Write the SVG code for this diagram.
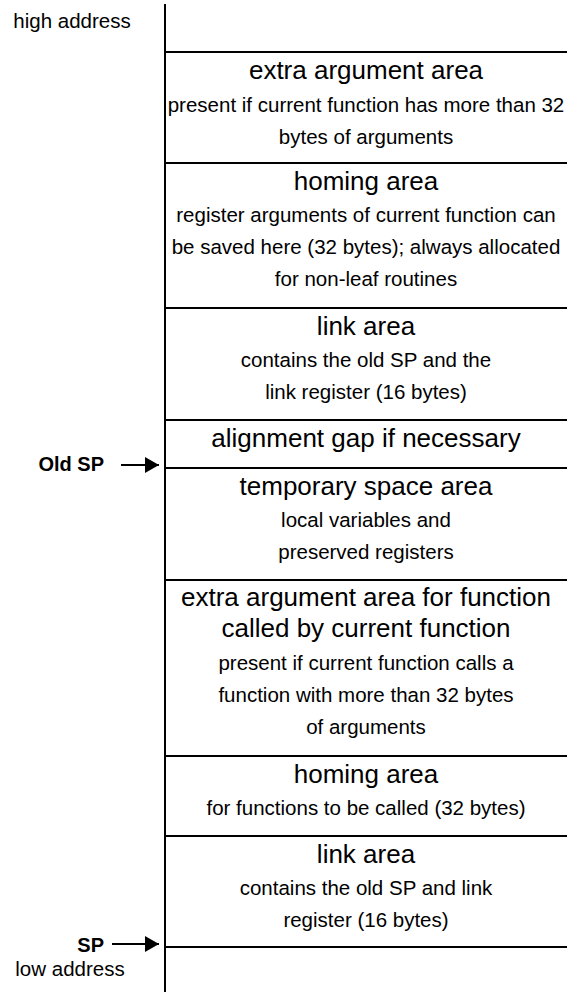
<svg xmlns="http://www.w3.org/2000/svg" width="567" height="992" viewBox="0 0 567 992">
<style>
  text { font-family: "Liberation Sans", Arial, Helvetica, sans-serif; fill: #000; }
  .t { font-size: 26px; text-anchor: middle; }
  .d { font-size: 20.5px; text-anchor: middle; }
  .l { font-size: 20.5px; text-anchor: middle; }
  .b { font-size: 20px; font-weight: bold; text-anchor: end; }
  .box { fill: none; stroke: #000; stroke-width: 2; }
  .ln { stroke: #000; stroke-width: 2; fill: none; }
</style>
<defs>
  <marker id="ah" markerUnits="userSpaceOnUse" markerWidth="15" markerHeight="16" refX="14" refY="8" orient="auto">
    <path d="M0,0 L14,8 L0,16 z" fill="#000"/>
  </marker>
</defs>
<rect width="567" height="992" fill="#fff"/>
<g id="frame">
  <line class="ln" x1="165" y1="4" x2="165" y2="52"/>
  <line class="ln" x1="165" y1="947" x2="165" y2="992"/>
</g>
<g id="labels">
  <text class="l" x="72" y="28">high address</text>
  <text class="l" x="70" y="976">low address</text>
  <text class="b" x="104" y="471">Old SP</text>
  <text class="b" x="104" y="952">SP</text>
</g>
<g id="n1">
  <rect class="box" x="165" y="52" width="410" height="111"/>
  <text class="t" x="366" y="79">extra argument area</text>
  <text class="d" x="366" y="112">present if current function has more than 32</text>
  <text class="d" x="366" y="144">bytes of arguments</text>
</g>
<g id="n2">
  <rect class="box" x="165" y="163" width="410" height="145"/>
  <text class="t" x="366" y="190">homing area</text>
  <text class="d" x="366" y="222">register arguments of current function can</text>
  <text class="d" x="366" y="254">be saved here (32 bytes); always allocated</text>
  <text class="d" x="366" y="286">for non-leaf routines</text>
</g>
<g id="n3">
  <rect class="box" x="165" y="308" width="410" height="112"/>
  <text class="t" x="366" y="335">link area</text>
  <text class="d" x="366" y="367">contains the old SP and the</text>
  <text class="d" x="366" y="399">link register (16 bytes)</text>
</g>
<g id="n4">
  <rect class="box" x="165" y="420" width="410" height="48"/>
  <text class="t" x="366" y="447">alignment gap if necessary</text>
</g>
<g id="n5">
  <rect class="box" x="165" y="468" width="410" height="112"/>
  <text class="t" x="366" y="495">temporary space area</text>
  <text class="d" x="366" y="527">local variables and</text>
  <text class="d" x="366" y="559">preserved registers</text>
</g>
<g id="n6">
  <rect class="box" x="165" y="580" width="410" height="176"/>
  <text class="t" x="366" y="606">extra argument area for function</text>
  <text class="t" x="366" y="637">called by current function</text>
  <text class="d" x="366" y="670">present if current function calls a</text>
  <text class="d" x="366" y="702">function with more than 32 bytes</text>
  <text class="d" x="366" y="734">of arguments</text>
</g>
<g id="n7">
  <rect class="box" x="165" y="756" width="410" height="80"/>
  <text class="t" x="366" y="783">homing area</text>
  <text class="d" x="366" y="815">for functions to be called (32 bytes)</text>
</g>
<g id="n8">
  <rect class="box" x="165" y="836" width="410" height="111"/>
  <text class="t" x="366" y="863">link area</text>
  <text class="d" x="366" y="895">contains the old SP and link</text>
  <text class="d" x="366" y="927">register (16 bytes)</text>
</g>
<g id="connectors">
  <line class="ln" x1="121" y1="465" x2="159" y2="465" marker-end="url(#ah)"/>
  <line class="ln" x1="112" y1="944" x2="159" y2="944" marker-end="url(#ah)"/>
</g>
</svg>
